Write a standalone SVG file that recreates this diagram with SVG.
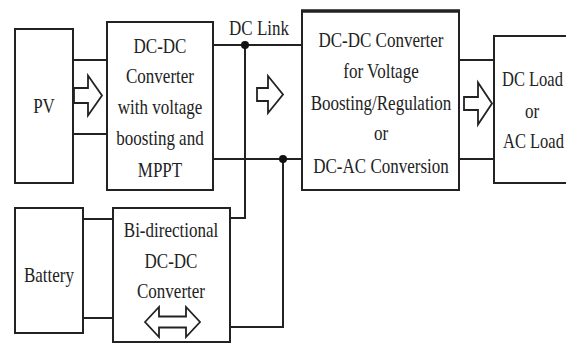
<svg xmlns="http://www.w3.org/2000/svg" width="566" height="343" viewBox="0 0 566 343">
<style>
.box{fill:#fff;stroke:#222;stroke-width:2}
.ln{fill:none;stroke:#222;stroke-width:2}
.arr{fill:#fff;stroke:#222;stroke-width:1.8;stroke-linejoin:miter}
text{font-family:'Liberation Serif','Times New Roman','DejaVu Serif',serif;font-size:17px;fill:#222;text-anchor:middle}
.s{text-anchor:start}
</style>
<rect width="566" height="343" fill="#fff"/>
<g id="connectors">
<line class="ln" x1="73" y1="60" x2="107" y2="60"/>
<line class="ln" x1="73" y1="134" x2="107" y2="134"/>
<line class="ln" x1="213" y1="45" x2="302" y2="45"/>
<line class="ln" x1="213" y1="159" x2="302" y2="159"/>
<polyline class="ln" points="245,45 245,218 230,218"/>
<polyline class="ln" points="283,159 283,327 230,327"/>
<circle cx="245" cy="45" r="4" fill="#111"/>
<circle cx="283" cy="159" r="4" fill="#111"/>
<line class="ln" x1="459" y1="60" x2="494" y2="60"/>
<line class="ln" x1="459" y1="159" x2="494" y2="159"/>
<line class="ln" x1="83" y1="219" x2="113" y2="219"/>
<line class="ln" x1="83" y1="318" x2="113" y2="318"/>
<path class="arr" d="M74,88 H88 V75.5 L102,95.5 L88,115.5 V103 H74 Z"/>
<path class="arr" d="M257,88 H268 V76 L283,94.5 L268,113 V101 H257 Z"/>
<path class="arr" d="M464,97 H478 V82.5 L492,103.5 L478,124.5 V110 H464 Z"/>
<text transform="translate(259,35) scale(1,1.2)">DC Link</text>
</g>
<g id="pv">
<rect class="box" x="15" y="29" width="58" height="154"/>
<text transform="translate(44,113) scale(1,1.25)">PV</text>
</g>
<g id="dcdc1">
<rect class="box" x="107" y="22" width="106" height="168"/>
<text transform="translate(160,53) scale(1,1.25)">DC-DC</text>
<text transform="translate(160,83) scale(1,1.25)">Converter</text>
<text transform="translate(160,114) scale(1,1.25)">with voltage</text>
<text transform="translate(160,145) scale(1,1.25)">boosting and</text>
<text transform="translate(160,177) scale(1,1.25)">MPPT</text>
</g>
<g id="dcdc2">
<rect class="box" x="302" y="11" width="157" height="179"/>
<line x1="301" y1="11" x2="460" y2="11" stroke="#222" stroke-width="3.5"/>
<text transform="translate(381,47) scale(1,1.25)">DC-DC Converter</text>
<text transform="translate(381,78) scale(1,1.25)">for Voltage</text>
<text transform="translate(381,110) scale(1,1.25)">Boosting/Regulation</text>
<text transform="translate(381,140) scale(1,1.25)">or</text>
<text transform="translate(381,173) scale(1,1.25)">DC-AC Conversion</text>
</g>
<g id="load">
<rect class="box" x="494" y="36" width="100" height="147"/>
<text class="s" style="font-size:16.5px" transform="translate(502,86) scale(1,1.25)">DC Load</text>
<text transform="translate(532,118) scale(1,1.25)">or</text>
<text class="s" style="font-size:16.5px" transform="translate(503,148) scale(1,1.25)">AC Load</text>
</g>
<g id="battery">
<rect class="box" x="15" y="208" width="68" height="125"/>
<text transform="translate(49,282) scale(1,1.25)">Battery</text>
</g>
<g id="bidir">
<rect class="box" x="113" y="208" width="117" height="134"/>
<text transform="translate(171,237) scale(1,1.25)">Bi-directional</text>
<text transform="translate(171,268) scale(1,1.25)">DC-DC</text>
<text transform="translate(171,298) scale(1,1.25)">Converter</text>
<path class="arr" d="M145,322 L159,307 V316.5 H186 V307 L200,322 L186,337 V327.5 H159 V337 Z"/>
</g>
</svg>
